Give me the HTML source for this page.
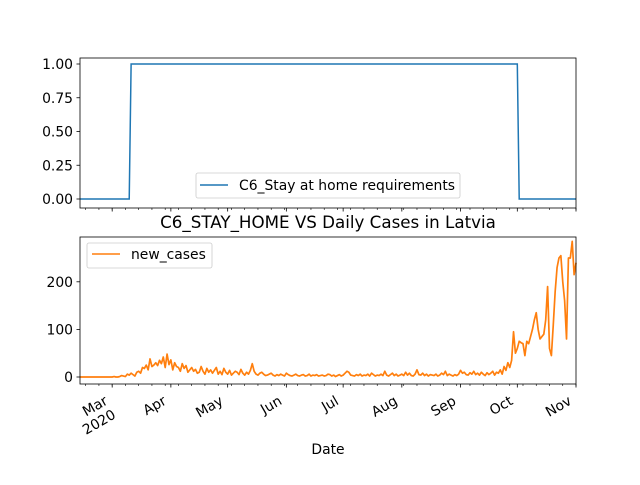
<!DOCTYPE html>
<html><head><meta charset="utf-8"><style>
body{margin:0;background:#fff}
svg{font-family:"DejaVu Sans","Liberation Sans",sans-serif}
</style></head><body>
<svg id="c" width="640" height="480" xmlns="http://www.w3.org/2000/svg"></svg>
<script>
const cases=[0,0,0,0,0,0,0,0,0,0,
0,0,0,0,0,0,0,0,1,0,
0,1,3,2,1,6,4,8,5,2,
10,12,8,20,18,25,15,38,22,25,
30,24,35,28,42,20,48,26,36,15,
30,22,20,12,28,18,24,10,15,20,
12,16,8,10,22,12,6,18,10,15,
8,14,20,6,12,5,18,10,6,14,
4,8,12,10,5,16,8,4,10,6,
14,28,12,6,4,8,10,6,3,4,
6,8,4,2,5,3,6,4,2,8,
5,3,2,4,6,3,2,4,5,2,
3,6,2,4,3,5,2,3,4,2,
3,6,5,2,4,1,3,5,2,4,
8,12,10,4,3,2,5,3,6,2,
4,3,6,2,8,5,2,4,3,6,
3,12,4,2,5,8,3,6,2,4,
6,3,10,4,8,3,2,6,15,5,
4,8,3,6,2,5,4,3,6,2,
4,8,5,12,3,6,4,2,5,3,
6,14,8,10,5,4,9,6,12,5,
8,4,10,6,3,9,5,8,12,4,
10,8,15,6,22,14,30,20,35,95,
50,60,75,72,70,45,75,70,85,100,
120,135,100,80,85,90,120,190,60,45,
110,180,230,250,255,200,160,80,250,250,285,215,240];
const stayStart=26.5, stayEnd=232;
const monthLabels=["Mar","Apr","May","Jun","Jul","Aug","Sep","Oct","Nov"];
const monthDays=[17,48,78,109,139,170,201,231,262];
const topTicks=[0,0.25,0.5,0.75,1.0];
const botTicks=[0,100,200];
const NS="http://www.w3.org/2000/svg";
const svg=document.getElementById('c');
function el(t,a,p){const e=document.createElementNS(NS,t);for(const k in a)e.setAttribute(k,a[k]);(p||svg).appendChild(e);return e;}
const X0=80,X1=576,ND=262;
const xs=d=>X0+(X1-X0)*d/ND;
const yT=v=>199-135*v;
const yB=v=>377-0.476*v;
const FS=13.9;
let stay=[];for(let d=0;d<cases.length;d++){stay.push((d>=stayStart&&d<stayEnd)?1:0);}
let p='';for(let d=0;d<stay.length;d++){p+=(d?'L':'M')+xs(d).toFixed(2)+','+yT(stay[d]).toFixed(2);}
let l1=el('path',{d:p,fill:'none',stroke:'#1f77b4','stroke-width':1.5});


p='';for(let d=0;d<cases.length;d++){p+=(d?'L':'M')+xs(d).toFixed(2)+','+yB(cases[d]).toFixed(2);}
let l2=el('path',{d:p,fill:'none',stroke:'#ff7f0e','stroke-width':1.7,'stroke-linejoin':'round'});


let f1=el('rect',{x:80,y:58,width:496,height:150,fill:'none',stroke:'#000','stroke-width':0.8});

let f2=el('rect',{x:80,y:237,width:496,height:147,fill:'none',stroke:'#000','stroke-width':0.8});

topTicks.forEach(v=>{const y=yT(v);el('line',{x1:76.5,x2:80,y1:y,y2:y,stroke:'#000','stroke-width':0.8});
 const t=el('text',{x:73,y:y+5,'text-anchor':'end','font-size':FS});t.textContent=v.toFixed(2);
 });
botTicks.forEach(v=>{const y=yB(v);el('line',{x1:76.5,x2:80,y1:y,y2:y,stroke:'#000','stroke-width':0.8});
 const t=el('text',{x:73,y:y+5,'text-anchor':'end','font-size':FS});t.textContent=v;
 });
for(let d=3;d<=ND;d+=7){[208,384].forEach(yb=>el('line',{x1:xs(d),x2:xs(d),y1:yb,y2:yb+2,stroke:'#000','stroke-width':0.6}));}
monthDays.forEach((d,i)=>{const x=xs(d);[208,384].forEach(yb=>el('line',{x1:x,x2:x,y1:yb,y2:yb+3.5,stroke:'#000','stroke-width':0.8}));
 const g=el('text',{'text-anchor':'end','font-size':FS,transform:`translate(${x-9},${394}) rotate(-30)`});
 
 if(i===0){const a=el('tspan',{x:0,y:11},g);a.textContent='Mar';const b=el('tspan',{x:0,y:27},g);b.textContent='2020';}
 else{const a=el('tspan',{x:0,y:11},g);a.textContent=monthLabels[i];}
});
let tt=el('text',{x:328,y:228,'text-anchor':'middle','font-size':16.7});tt.textContent='C6_STAY_HOME VS Daily Cases in Latvia';

let xl=el('text',{x:328,y:454,'text-anchor':'middle','font-size':FS});xl.textContent='Date';

let lg1=el('g',{});
el('rect',{x:196,y:173,width:264,height:25,rx:2,fill:'#fff','fill-opacity':0.8,stroke:'#ccc','stroke-width':0.8},lg1);
el('line',{x1:200,x2:228,y1:185,y2:185,stroke:'#1f77b4','stroke-width':1.5},lg1);
let lt1=el('text',{x:239,y:190,'font-size':FS},lg1);lt1.textContent='C6_Stay at home requirements';
let lg2=el('g',{});
el('rect',{x:87,y:243,width:125,height:25,rx:2,fill:'#fff','fill-opacity':0.8,stroke:'#ccc','stroke-width':0.8},lg2);
el('line',{x1:92,x2:120,y1:254,y2:254,stroke:'#ff7f0e','stroke-width':1.5},lg2);
let lt2=el('text',{x:131,y:259,'font-size':FS},lg2);lt2.textContent='new_cases';
</script>
</body></html>
